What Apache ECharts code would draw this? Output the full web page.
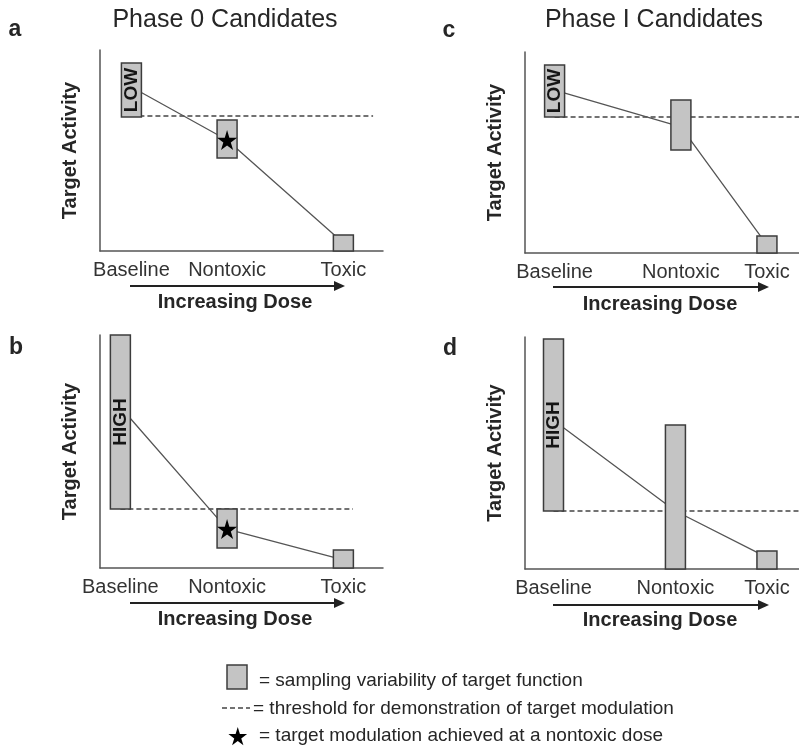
<!DOCTYPE html>
<html>
<head>
<meta charset="utf-8">
<script src="https://cdn.jsdelivr.net/npm/echarts@6/dist/echarts.min.js"></script>
<style>html,body{margin:0;padding:0;background:#fff;}#chart{width:799px;height:749px;}</style>
</head>
<body>
<div id="chart"></div>
<script>
// ---- data ----
const doseNames = ['Baseline', 'Nontoxic', 'Toxic'];
const panelTitles = ['Phase 0 Candidates', 'Phase I Candidates'];
const panelLetters = ['a', 'b', 'c', 'd'];
const axisNameY = 'Target Activity';
const axisNameX = 'Increasing Dose';

// panel a
const aDoseX = [11.1, 44.9, 86.0];
const aActivity = [81.6, 55.2, 4.0];
const aRangeLow = [66.7, 46.3, 0];
const aRangeHigh = [93.5, 65.2, 8.0];
const aThreshold = 67.2;
const aThresholdEnd = 96.5;
const aBoxText = ['LOW', '', ''];
const aStar = [false, true, false];

// panel b
const bDoseX = [7.2, 44.9, 86.0];
const bActivity = [69.1, 16.7, 3.5];
const bRangeLow = [25.3, 8.6, 0];
const bRangeHigh = [100, 25.3, 7.7];
const bThreshold = 25.3;
const bThresholdEnd = 89.4;
const bBoxText = ['HIGH', '', ''];
const bStar = [false, true, false];

// panel c
const cDoseX = [10.8, 56.9, 88.3];
const cActivity = [81.0, 62.7, 4.0];
const cRangeLow = [67.7, 51.2, 0];
const cRangeHigh = [93.5, 76.1, 8.5];
const cThreshold = 67.7;
const cThresholdEnd = 100;
const cBoxText = ['LOW', '', ''];
const cStar = [false, false, false];

// panel d
const dDoseX = [10.4, 54.9, 88.3];
const dActivity = [64.1, 25.0, 5.0];
const dRangeLow = [25.0, 0, 0];
const dRangeHigh = [99.1, 62.1, 7.8];
const dThreshold = 25.0;
const dThresholdEnd = 100;
const dBoxText = ['HIGH', '', ''];
const dStar = [false, false, false];

const legendTexts = [
  '= sampling variability of target function',
  '= threshold for demonstration of target modulation',
  '= target modulation achieved at a nontoxic dose'
];

// ---- styling / layout ----
const FONT = '"Liberation Sans", Arial, sans-serif';
const TXT = '#262626';
const BOX_FILL = '#c4c4c4';
const BOX_STROKE = '#3c3c3c';
const STAR_PTS = [[50,0],[61,35],[98,35],[68,57],[79,91],[50,70],[21,91],[32,57],[2,35],[39,35]];
const STAR_PATH = 'path://M' + STAR_PTS.map(function (p) { return p[0] + ',' + p[1]; }).join(' L') + ' Z';

const panels = [
  {x: aDoseX, act: aActivity, lo: aRangeLow, hi: aRangeHigh, thr: aThreshold, thrEnd: aThresholdEnd, txt: aBoxText, star: aStar,
   grid: {left: 100, top: 50, width: 283, height: 201}, namePad: 13},
  {x: bDoseX, act: bActivity, lo: bRangeLow, hi: bRangeHigh, thr: bThreshold, thrEnd: bThresholdEnd, txt: bBoxText, star: bStar,
   grid: {left: 100, top: 335, width: 283, height: 233}, namePad: 13},
  {x: cDoseX, act: cActivity, lo: cRangeLow, hi: cRangeHigh, thr: cThreshold, thrEnd: cThresholdEnd, txt: cBoxText, star: cStar,
   grid: {left: 525, top: 52, width: 274, height: 201}, namePad: 4},
  {x: dDoseX, act: dActivity, lo: dRangeLow, hi: dRangeHigh, thr: dThreshold, thrEnd: dThresholdEnd, txt: dBoxText, star: dStar,
   grid: {left: 525, top: 337, width: 274, height: 232}, namePad: 4}
];

function boxRenderer(texts) {
  return function (params, api) {
    const x = api.value(0), lo = api.value(1), hi = api.value(2);
    const pTop = api.coord([x, hi]);
    const pBot = api.coord([x, lo]);
    const w = 20;
    const children = [{
      type: 'rect',
      shape: {x: pTop[0] - w / 2, y: pTop[1], width: w, height: pBot[1] - pTop[1]},
      style: {fill: BOX_FILL, stroke: BOX_STROKE, lineWidth: 1.5}
    }];
    const t = texts[params.dataIndex];
    if (t) {
      children.push({
        type: 'text', x: pTop[0] + 0.5, y: (pTop[1] + pBot[1]) / 2, rotation: Math.PI / 2,
        style: {text: t, align: 'center', verticalAlign: 'middle', font: 'bold 19px ' + FONT, fill: '#151515'}
      });
    }
    return {type: 'group', children: children};
  };
}

const grids = [], xAxes = [], yAxes = [], series = [];
panels.forEach(function (p, i) {
  grids.push(Object.assign({containLabel: false, outerBoundsMode: 'none'}, p.grid));
  xAxes.push({
    type: 'value', gridIndex: i, min: 0, max: 100,
    axisLine: {show: true, onZero: false, lineStyle: {color: '#555', width: 1.5}},
    axisTick: {show: false},
    splitLine: {show: false},
    axisLabel: {
      show: true, customValues: p.x, margin: 9,
      formatter: function (v) {
        let best = 0;
        p.x.forEach(function (xx, k) { if (Math.abs(xx - v) < Math.abs(p.x[best] - v)) best = k; });
        return doseNames[best];
      },
      color: '#333', fontSize: 20, fontFamily: FONT
    },
    name: axisNameX, nameLocation: 'middle', nameGap: 41,
    nameTextStyle: {color: TXT, fontSize: 20, fontWeight: 'bold', fontFamily: FONT, padding: [0, p.namePad, 0, 0]}
  });
  yAxes.push({
    type: 'value', gridIndex: i, min: 0, max: 100,
    axisLine: {show: true, onZero: false, lineStyle: {color: '#555', width: 1.5}},
    axisTick: {show: false}, axisLabel: {show: false}, splitLine: {show: false},
    name: axisNameY, nameLocation: 'middle', nameGap: 20,
    nameTextStyle: {color: TXT, fontSize: 20, fontWeight: 'bold', fontFamily: FONT}
  });
  series.push({
    type: 'line', xAxisIndex: i, yAxisIndex: i, z: 2, symbol: 'none', silent: true,
    data: [[p.x[0], p.thr], [p.thrEnd, p.thr]],
    lineStyle: {color: '#444', width: 1.5, type: [5, 3]}
  });
  series.push({
    type: 'line', xAxisIndex: i, yAxisIndex: i, z: 3, symbol: 'none', silent: true,
    data: p.x.map(function (xx, k) { return [xx, p.act[k]]; }),
    lineStyle: {color: '#555', width: 1.3}
  });
  series.push({
    type: 'custom', xAxisIndex: i, yAxisIndex: i, z: 4, clip: false, silent: true,
    renderItem: boxRenderer(p.txt),
    encode: {x: 0, y: [1, 2]},
    data: p.x.map(function (xx, k) { return [xx, p.lo[k], p.hi[k], p.act[k]]; })
  });
  series.push({
    type: 'scatter', xAxisIndex: i, yAxisIndex: i, z: 5, silent: true,
    symbol: STAR_PATH, symbolSize: 20,
    itemStyle: {color: '#000', opacity: 1},
    data: p.x.map(function (xx, k) { return [xx, p.act[k]]; }).filter(function (d, k) { return p.star[k]; })
  });
});

function arrow(x1, x2, y) {
  return [
    {type: 'line', shape: {x1: x1, y1: y, x2: x2 - 8, y2: y}, style: {stroke: '#222', lineWidth: 2}},
    {type: 'polygon', shape: {points: [[x2 - 11, y - 5], [x2, y], [x2 - 11, y + 5]]}, style: {fill: '#222'}}
  ];
}
function txt(x, y, s, font, align) {
  return {type: 'text', x: x, y: y, style: {text: s, font: font, fill: TXT, align: align || 'center', verticalAlign: 'middle'}};
}

const graphics = [
  txt(225, 20, panelTitles[0], '25px ' + FONT),
  txt(654, 20, panelTitles[1], '25px ' + FONT),
  txt(15, 30, panelLetters[0], 'bold 23px ' + FONT),
  txt(16, 348, panelLetters[1], 'bold 23px ' + FONT),
  txt(449, 31, panelLetters[2], 'bold 23px ' + FONT),
  txt(450, 349, panelLetters[3], 'bold 23px ' + FONT)
]
.concat(arrow(130, 345, 286))
.concat(arrow(130, 345, 603))
.concat(arrow(553, 769, 287))
.concat(arrow(553, 769, 605))
.concat([
  {type: 'rect', shape: {x: 227, y: 665, width: 20, height: 24}, style: {fill: BOX_FILL, stroke: BOX_STROKE, lineWidth: 1.5}},
  {type: 'line', shape: {x1: 222, y1: 708, x2: 250, y2: 708}, style: {stroke: '#444', lineWidth: 1.5, lineDash: [5, 3]}},
  {type: 'polygon', shape: {points: STAR_PTS.map(function (p) { return [228 + p[0] * 0.195, 727 + p[1] * 0.2]; })}, style: {fill: '#000'}},
  txt(259, 681, legendTexts[0], '19px ' + FONT, 'left'),
  txt(253, 709, legendTexts[1], '19px ' + FONT, 'left'),
  txt(259, 736, legendTexts[2], '19px ' + FONT, 'left')
]);

const chart = echarts.init(document.getElementById('chart'), null, {renderer: 'canvas'});
chart.setOption({
  backgroundColor: '#ffffff',
  animation: false,
  grid: grids,
  xAxis: xAxes,
  yAxis: yAxes,
  series: series,
  graphic: graphics
});
</script>
</body>
</html>
